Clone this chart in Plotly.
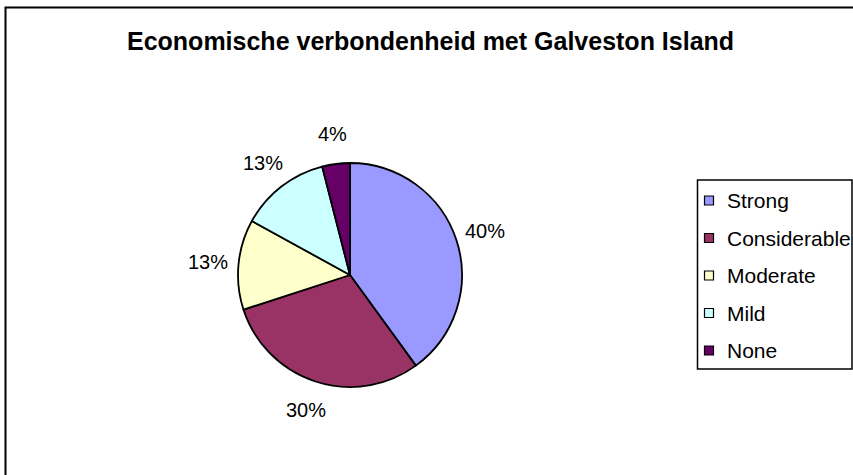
"""
Pie chart: economic ties with Galveston Island
"""
import math
import plotly.graph_objects as go

W, H = 853, 475

# data
labels = ["Strong", "Considerable", "Moderate", "Mild", "None"]
values = [40, 30, 13, 13, 4]
colors = ["#9999FF", "#993366", "#FFFFCC", "#CCFFFF", "#660066"]
title = "Economische verbondenheid met Galveston Island"

FONT = "Arial, Liberation Sans, sans-serif"

# pie geometry in pixels
cx, cy, r = 350, 275, 112


def px(x):
    return x / W


def py(y):
    return 1 - y / H


fig = go.Figure(go.Pie(
    labels=labels,
    values=values,
    sort=False,
    direction="clockwise",
    rotation=0,
    marker=dict(colors=colors, line=dict(color="black", width=1.8)),
    textinfo="none",
    hoverinfo="label+percent",
    showlegend=False,
    domain=dict(x=[px(cx - r), px(cx + r)], y=[py(cy + r), py(cy - r)]),
))

annotations = []

# percentage labels outside each slice
total = sum(values)
cum = 0
for v in values:
    mid = (cum + v / 2) / total * 2 * math.pi
    cum += v
    lx = cx + 1.27 * r * math.sin(mid)
    ly = cy - 1.27 * r * math.cos(mid)
    annotations.append(dict(
        x=px(lx), y=py(ly), xref="paper", yref="paper",
        text=f"{v / total * 100:.0f}%", showarrow=False,
        xanchor="center", yanchor="middle",
        font=dict(family=FONT, size=20, color="black"),
    ))

# title
annotations.append(dict(
    x=px(431), y=py(41), xref="paper", yref="paper",
    text="<b>" + title + "</b>", showarrow=False,
    xanchor="center", yanchor="middle",
    font=dict(family=FONT, size=25, color="black"),
))

shapes = [
    # outer chart frame
    dict(type="rect", xref="paper", yref="paper",
         x0=px(5.5), x1=px(870), y0=py(7.5), y1=py(490),
         line=dict(color="black", width=2)),
    # legend box
    dict(type="rect", xref="paper", yref="paper",
         x0=px(697.5), x1=px(852), y0=py(180), y1=py(369),
         line=dict(color="black", width=1.5), fillcolor="white"),
]

# legend entries
for i, (lab, col) in enumerate(zip(labels, colors)):
    yc = 200.5 + i * 37.5
    shapes.append(dict(
        type="rect", xref="paper", yref="paper",
        x0=px(704.5), x1=px(713.5), y0=py(yc + 4.5), y1=py(yc - 4.5),
        fillcolor=col, line=dict(color="black", width=1.2),
    ))
    annotations.append(dict(
        x=px(725), y=py(yc), xref="paper", yref="paper",
        text=lab, showarrow=False, xanchor="left", yanchor="middle",
        font=dict(family=FONT, size=21, color="black"),
    ))

fig.update_layout(
    width=W, height=H,
    margin=dict(l=0, r=0, t=0, b=0),
    paper_bgcolor="white",
    plot_bgcolor="white",
    shapes=shapes,
    annotations=annotations,
)

# drop the default page margin so the figure sits at the window origin
fig.write_html("out.html", config={"displayModeBar": False},
               post_script="document.body.style.margin='0';")
